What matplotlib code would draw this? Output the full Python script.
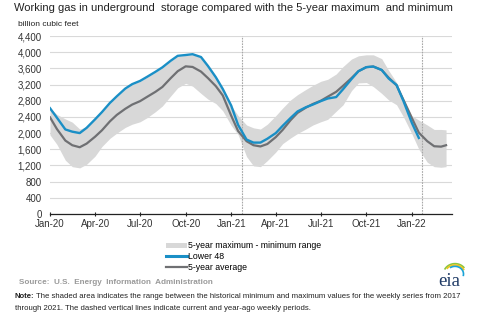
import numpy as np
import pandas as pd
import matplotlib
matplotlib.use("Agg")
import matplotlib.pyplot as plt
from matplotlib.lines import Line2D
from matplotlib.patches import Patch

plt.rcParams['font.family'] = ['Liberation Sans', 'DejaVu Sans']

# ---------------- data ----------------
range_dates = [
    "2020-01-01", "2020-01-15", "2020-02-01", "2020-02-15", "2020-03-01", "2020-03-15",
    "2020-04-01", "2020-04-15", "2020-05-01", "2020-05-15", "2020-06-01", "2020-06-15",
    "2020-07-01", "2020-07-15", "2020-08-01", "2020-08-15", "2020-09-01", "2020-09-15",
    "2020-10-01", "2020-10-15", "2020-11-01", "2020-11-15", "2020-12-01", "2020-12-15",
    "2021-01-01", "2021-01-15", "2021-02-01", "2021-02-15", "2021-03-01", "2021-03-15",
    "2021-04-01", "2021-04-15", "2021-05-01", "2021-05-15", "2021-06-01", "2021-06-15",
    "2021-07-01", "2021-07-15", "2021-08-01", "2021-08-15", "2021-09-01", "2021-09-15",
    "2021-10-01", "2021-10-15", "2021-11-01", "2021-11-15", "2021-12-01", "2021-12-15",
    "2022-01-01", "2022-01-15", "2022-02-01", "2022-02-15", "2022-03-01", "2022-03-11",
]
avg_5yr = [
    2390, 2100, 1815, 1700, 1650, 1740, 1910, 2070, 2290, 2450, 2600, 2705,
    2790, 2895, 3020, 3140, 3360, 3530, 3650, 3635, 3520, 3360, 3160, 2930,
    2430, 2050, 1800, 1700, 1670, 1730, 1900, 2080, 2320, 2500, 2630, 2720,
    2800, 2900, 3020, 3170, 3360, 3530, 3630, 3645, 3560, 3370, 3180, 2820,
    2370, 2010, 1800, 1675, 1665, 1700,
]
max_5yr = [
    2620, 2460, 2350, 2270, 2100, 2150, 2340, 2510, 2730, 2900, 3090, 3200,
    3280, 3380, 3505, 3615, 3780, 3900, 3920, 3940, 3870, 3650, 3370, 3080,
    2680, 2430, 2200, 2130, 2100, 2220, 2430, 2620, 2820, 2950, 3080, 3180,
    3280, 3330, 3460, 3645, 3830, 3910, 3935, 3935, 3840, 3550, 3250, 2840,
    2430, 2320, 2200, 2090, 2090, 2080,
]
min_5yr = [
    1955, 1720, 1330, 1170, 1140, 1230, 1430, 1670, 1870, 2000, 2140, 2220,
    2280, 2380, 2530, 2670, 2920, 3120, 3230, 3160, 2980, 2840, 2730, 2550,
    2190, 1960, 1420, 1190, 1170, 1320, 1530, 1740, 1880, 1990, 2100, 2200,
    2280, 2340, 2540, 2700, 3050, 3240, 3250, 3150, 2980, 2820, 2700, 2400,
    1980, 1600, 1280, 1170, 1155, 1170,
]
lower48_dates = range_dates[:50]
lower48 = [
    2615, 2380, 2090, 2035, 2000, 2130, 2340, 2520, 2745, 2910, 3100, 3210,
    3290, 3390, 3515, 3625, 3790, 3910, 3930, 3950, 3880, 3660, 3380, 3090,
    2680, 2200, 1840, 1765, 1765, 1860, 2000, 2180, 2375, 2535, 2640, 2705,
    2790, 2855, 2890, 3085, 3335, 3530, 3630, 3645, 3560, 3350, 3190, 2790,
    2250, 1880,
]
marker_dates = ["2021-01-22", "2022-01-21"]
y_ticks = [0, 400, 800, 1200, 1600, 2000, 2400, 2800, 3200, 3600, 4000, 4400]
x_tick_dates = ["2020-01-01", "2020-04-01", "2020-07-01", "2020-10-01", "2021-01-01",
                "2021-04-01", "2021-07-01", "2021-10-01", "2022-01-01"]
x_tick_labels = ["Jan-20", "Apr-20", "Jul-20", "Oct-20", "Jan-21",
                 "Apr-21", "Jul-21", "Oct-21", "Jan-22"]

# ---------------- figure ----------------
W, H = 502, 330
fig = plt.figure(figsize=(W / 100, H / 100), dpi=100)
fig.patch.set_facecolor("white")

ax_l, ax_r, ax_t, ax_b = 50, 452, 36, 214
ax = fig.add_axes([ax_l / W, 1 - ax_b / H, (ax_r - ax_l) / W, (ax_b - ax_t) / H])

rd = pd.to_datetime(range_dates)
ld = pd.to_datetime(lower48_dates)

BAND = "#d8d8d8"
BLUE = "#1a8fc6"
GRAY = "#6f7073"

ax.fill_between(rd, min_5yr, max_5yr, color=BAND, lw=0, zorder=1)
ax.plot(rd, avg_5yr, color=GRAY, lw=1.6, zorder=3)
ax.plot(ld, lower48, color=BLUE, lw=1.7, zorder=4)

for d in marker_dates:
    ax.axvline(pd.Timestamp(d), color="#a8a8a8", lw=0.8, ls=(0, (1.5, 1.0)), zorder=2)

ax.set_ylim(0, 4400)
ax.set_xlim(pd.Timestamp("2020-01-01"), pd.Timestamp("2022-03-23"))
ax.set_yticks(y_ticks)
ax.set_yticklabels([f"{v:,}" for v in y_ticks], fontsize=7, color="#333333")
ax.set_xticks(pd.to_datetime(x_tick_dates))
ax.set_xticklabels(x_tick_labels, fontsize=7, color="#333333")
ax.grid(axis="y", color="#d9d9d9", lw=0.8, zorder=0)
ax.set_axisbelow(True)
for s in ["top", "right", "left"]:
    ax.spines[s].set_visible(False)
ax.spines["bottom"].set_color("#222222")
ax.spines["bottom"].set_linewidth(0.9)
ax.tick_params(axis="y", length=0, pad=6)
ax.tick_params(axis="x", length=3, width=0.8, color="#222222", pad=2, direction="inout")

# titles
fig.text(14 / W, 1 - 8 / H, "Working gas in underground  storage compared with the 5-year maximum  and minimum",
         fontsize=8.05, color="#222222", va="center", ha="left")
fig.text(18 / W, 1 - 24 / H, "billion cubic feet", fontsize=6, color="#222222", va="center", ha="left")

# legend
handles = [Patch(facecolor=BAND, edgecolor="none"),
           Line2D([], [], color=BLUE, lw=2.2),
           Line2D([], [], color=GRAY, lw=1.6)]
labels = ["5-year maximum - minimum range", "Lower 48", "5-year average"]
fig.legend(handles, labels, loc="upper left", bbox_to_anchor=(160 / W, 1 - 235 / H),
           frameon=False, fontsize=6.3, handlelength=2.4, handleheight=0.5,
           handletextpad=0.1, labelspacing=0.2, borderpad=0.2)

fig.text(19 / W, 1 - 283 / H, "Source:  U.S.  Energy  Information  Administration",
         fontsize=5.9, color="#9a9a9a", weight="bold", va="center", ha="left")
fig.text(15 / W, 1 - 296 / H, "Note:", fontsize=5.6, color="#222222",
         weight="bold", va="center", ha="left")
fig.text(36 / W, 1 - 296 / H,
         "The shaded area indicates the range between the historical minimum and maximum values for the weekly series from 2017",
         fontsize=5.6, color="#222222", va="center", ha="left")
fig.text(15 / W, 1 - 308 / H,
         "through 2021. The dashed vertical lines indicate current and year-ago weekly periods.",
         fontsize=5.6, color="#222222", va="center", ha="left")

# eia logo
fig.text(449 / W, 1 - 282 / H, "eia", fontsize=13.5, family="Liberation Serif",
         color="#1f3b66", va="center", ha="center")
for col, r, a0, a1 in [("#8cc63f", 11.5, 40, 150), ("#f2c31b", 10, 30, 140), ("#19a3d8", 8.5, -10, 120)]:
    ang = np.radians(np.linspace(a1, a0, 40))
    xs = 455 + r * np.cos(ang)
    ys = 274 - r * np.sin(ang) * 0.9
    fig.add_artist(Line2D(xs / W, 1 - ys / H, color=col, lw=1.2))

fig.savefig("out.png", dpi=100, facecolor="white")
